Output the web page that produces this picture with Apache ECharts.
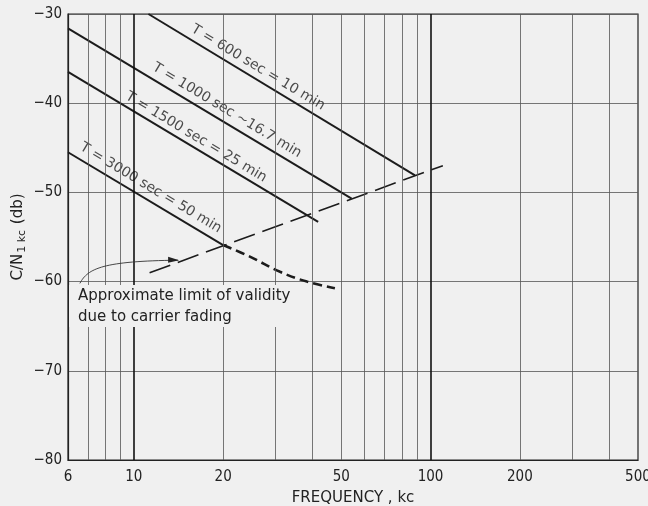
<!DOCTYPE html>
<html>
<head>
<meta charset="utf-8">
<script src="https://cdn.jsdelivr.net/npm/echarts@6/dist/echarts.min.js"></script>
<style>
  html, body { margin: 0; padding: 0; background: #f0f0f0; }
  #chart { width: 648px; height: 506px; }
</style>
</head>
<body>
<div id="chart"></div>
<script>
// axis ticks / grid
const freqLabels = [6, 10, 20, 50, 100, 200, 500];
const minorFreqLines = [7, 8, 9, 20, 30, 40, 50, 60, 70, 80, 90, 200, 300, 400];
const majorFreqLines = [10, 100];

// integration time lines (freq kc, C/N db)
const t600 = [[11.2, -30], [88.6, -48.1]];
const t1000 = [[6, -31.6], [54.2, -50.7]];
const t1500 = [[6, -36.5], [41.8, -53.3]];
const t3000 = [[6, -45.5], [20, -55.9]];
const fadingCurve = [[20, -55.9], [24.6, -57.2], [31.1, -58.9], [38.3, -60.0], [47.6, -60.75]];
const validityLimit = [[11.3, -59.0], [110, -47.0]];

const lineLabels = [
  { name: "T = 600 sec = 10 min", value: [26.2, -36.0] },
  { name: "T = 1000 sec ~16.7 min", value: [20.6, -40.8] },
  { name: "T = 1500 sec = 25 min", value: [16.2, -43.8] },
  { name: "T = 3000 sec = 50 min", value: [11.4, -49.5] },
];

// arrow from note to the limit line: start, control 1, control 2, tip
const arrowPath = [[6.58, -60.2], [7.0, -58.5], [7.9, -57.7], [14.1, -57.6]];

const INK = "#1c1c1c";
const tickFont = "'Liberation Sans Narrow', 'DejaVu Sans Condensed', sans-serif";
const textFont = "'DejaVu Sans', sans-serif";

const chart = echarts.init(document.getElementById("chart"), null, { renderer: "canvas" });

const solid = (data) => ({
  type: "line",
  data,
  showSymbol: false,
  silent: true,
  lineStyle: { color: INK, width: 2 },
  z: 3,
});

const option = {
  backgroundColor: "#f0f0f0",
  animation: false,
  grid: {
    left: 68, right: 10, top: 14, bottom: 46,
    outerBoundsMode: "none",
    containLabel: false,
    show: true, borderColor: "#222", borderWidth: 1.2, backgroundColor: "transparent",
  },
  xAxis: {
    type: "log",
    logBase: 10,
    min: 6,
    max: 500,
    name: "FREQUENCY , kc",
    nameLocation: "middle",
    nameGap: 31,
    nameTextStyle: { color: "#222", fontFamily: textFont, fontSize: 15 },
    axisLine: { show: true, lineStyle: { color: "#222", width: 1.2 } },
    axisTick: { show: false },
    splitLine: { show: false },
    minorSplitLine: { show: false },
    axisLabel: {
      customValues: freqLabels,
      color: "#222",
      fontFamily: tickFont,
      fontSize: 15,
      margin: 10,
      formatter: (v) => String(Math.round(v)),
    },
  },
  yAxis: {
    type: "value",
    min: -80,
    max: -30,
    interval: 10,
    name: "{a|C/N}{s|1 kc}{a| (db)}",
    nameLocation: "middle",
    nameGap: 39,
    nameMoveOverlap: false,
    nameTextStyle: {
      color: "#222",
      rich: {
        a: { fontFamily: textFont, fontSize: 15, color: "#222", lineHeight: 22 },
        s: { fontFamily: textFont, fontSize: 11, color: "#222", lineHeight: 22, padding: [8, 1, 0, 1] },
      },
    },
    axisLine: { show: true, lineStyle: { color: "#222", width: 1.2 } },
    axisTick: { show: false },
    splitLine: { show: true, lineStyle: { color: "#555", width: 0.8 } },
    axisLabel: {
      color: "#222",
      fontFamily: tickFont,
      fontSize: 15,
      margin: 6,
      formatter: (v) => "\u2212" + Math.abs(v),
    },
  },
  series: [
    {
      // frequency grid lines
      type: "line",
      data: [],
      silent: true,
      z: 1,
      markLine: {
        silent: true,
        symbol: "none",
        label: { show: false },
        animation: false,
        data: [
          ...minorFreqLines.map((f) => ({ xAxis: f, lineStyle: { color: "#555", width: 0.8, type: "solid" } })),
          ...majorFreqLines.map((f) => ({ xAxis: f, lineStyle: { color: "#111", width: 1.6, type: "solid" } })),
        ],
      },
    },
    solid(t600),
    solid(t1000),
    solid(t1500),
    solid(t3000),
    {
      type: "line",
      data: validityLimit,
      showSymbol: false,
      silent: true,
      z: 3,
      lineStyle: { color: INK, width: 1.6, type: [22, 8] },
    },
    {
      type: "line",
      data: fadingCurve,
      smooth: 0.4,
      showSymbol: false,
      silent: true,
      z: 3,
      lineStyle: { color: INK, width: 2.6, type: [9, 5] },
    },
    {
      type: "scatter",
      data: lineLabels,
      symbolSize: 0,
      silent: true,
      z: 4,
      label: {
        show: true,
        position: "inside",
        rotate: -31,
        formatter: "{b}",
        color: "#222",
        fontFamily: textFont,
        fontSize: 14,
      },
    },
  ],
};

chart.setOption(option);

// note box + arrow, placed from data coordinates
const px = (p) => chart.convertToPixel({ gridIndex: 0 }, p);
const [a0, a1, a2, a3] = arrowPath.map(px);

chart.setOption({
  graphic: [
    {
      type: "rect",
      z: 50,
      shape: { x: 69, y: 285, width: 231, height: 42 },
      style: { fill: "#f0f0f0" },
      silent: true,
    },
    {
      type: "text",
      z: 51,
      x: 78,
      y: 286,
      silent: true,
      style: {
        text: "Approximate limit of validity\ndue to carrier fading",
        fill: "#222",
        font: "15px 'DejaVu Sans', sans-serif",
        lineHeight: 21,
      },
    },
    {
      type: "bezierCurve",
      z: 51,
      silent: true,
      shape: { x1: a0[0], y1: a0[1], cpx1: a1[0], cpy1: a1[1], cpx2: a2[0], cpy2: a2[1], x2: a3[0], y2: a3[1] },
      style: { stroke: "#333", lineWidth: 0.9, fill: null },
    },
    {
      type: "polygon",
      z: 51,
      silent: true,
      shape: { points: [[a3[0] + 1, a3[1]], [a3[0] - 10, a3[1] - 3.5], [a3[0] - 10, a3[1] + 2.5]] },
      style: { fill: "#222" },
    },
  ],
});
</script>
</body>
</html>
